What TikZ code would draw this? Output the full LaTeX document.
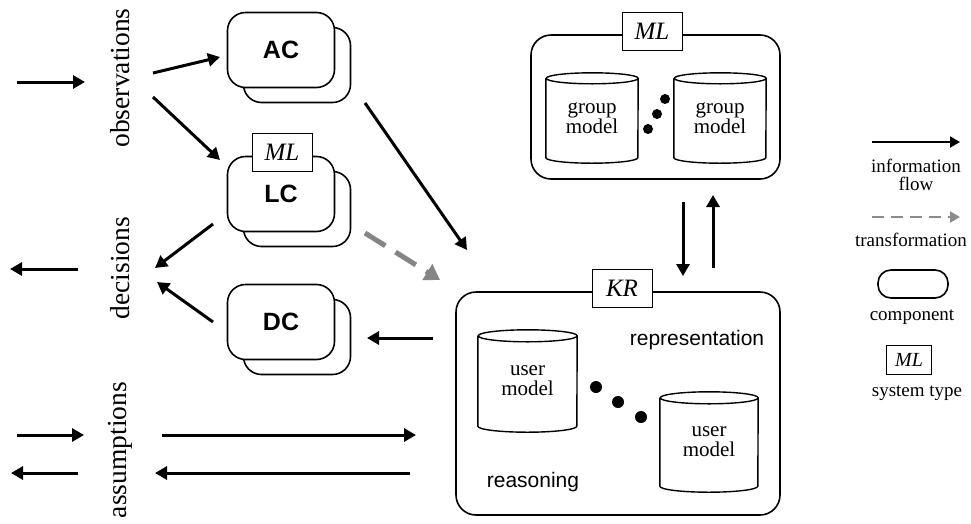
\documentclass[tikz,border=0pt]{standalone}
\usepackage{fontspec}
\setmainfont{Liberation Serif}
\newfontfamily\arialfont{Liberation Sans}
\usetikzlibrary{arrows.meta}

% outline of a data store round a (rectangular) node
\newcommand{\drum}[3]{%
  \draw[line width=1.4pt] ([yshift=-#3]#1.north west) -- ([yshift=#3]#1.south west)
    arc[start angle=180, end angle=360, x radius=#2, y radius=#3]
    -- ([yshift=-#3]#1.north east)
    arc[start angle=0, end angle=180, x radius=#2, y radius=#3]
    arc[start angle=180, end angle=360, x radius=#2, y radius=#3];}

\begin{document}
\begin{tikzpicture}[x=1pt, y=-1pt, >={Triangle[length=12pt,width=13pt]},
  flow/.style={->, line width=3pt},
  trans/.style={-{Triangle[length=15pt,width=18pt]}, line width=5pt, black!48, dash pattern=on 24pt off 12pt},
  comp/.style={draw, line width=1.6pt, rounded corners=18pt, fill=white, minimum width=107pt, minimum height=75pt, font=\arialfont\bfseries\fontsize{25}{25}\selectfont},
  systype/.style={draw, line width=0.8pt, fill=white, minimum width=60pt, minimum height=38pt, inner sep=0pt, font=\itshape\fontsize{25}{25}\selectfont},
  container/.style={draw, line width=1.6pt, rounded corners=20pt},
  sidetext/.style={rotate=90, font=\fontsize{27.5}{27.5}\selectfont},
  drumnode/.style={align=center, inner sep=0pt, font=\fontsize{21}{20}\selectfont},
  sanstext/.style={font=\arialfont\fontsize{21}{21}\selectfont},
  legendtext/.style={align=center, font=\fontsize{19}{18}\selectfont}]
\useasboundingbox (0,0) rectangle (971,523);

% side labels
\node[sidetext] (obs) at (120,78) {observations};
\node[sidetext] (dec) at (120,268) {decisions};
\node[sidetext] (ass) at (120,450) {assumptions};

% components
\node[comp] (ACb) at (297,65) {};
\node[comp] (AC) at (281,50) {AC};
\node[comp] (LCb) at (297,209) {};
\node[comp] (LC) at (281,194) {LC};
\node[systype] (LCtype) at (282,152) {ML};
\node[comp] (DCb) at (297,337) {};
\node[comp] (DC) at (281,322) {DC};

% group models
\node[container, minimum width=249pt, minimum height=144pt] (GM) at (655.5,107) {};
\node[systype] (GMtype) at (652,31) {ML};
\node[drumnode, minimum width=92pt, minimum height=90pt] (gm1) at (592,118) {group\\model};
\node[drumnode, minimum width=92pt, minimum height=90pt] (gm2) at (720,118) {group\\model};
\drum{gm1}{46pt}{5.5pt}
\drum{gm2}{46pt}{5.5pt}
\fill (665,99) circle (5pt) (657,114) circle (5pt) (648,129) circle (5pt);

% user models
\node[container, minimum width=324pt, minimum height=223pt] (KR) at (618,403.5) {};
\node[systype] (KRtype) at (622,288) {KR};
\node[drumnode, minimum width=99pt, minimum height=102pt] (um1) at (527.5,381) {user\\model};
\node[drumnode, minimum width=98pt, minimum height=100pt] (um2) at (709,442) {user\\model};
\drum{um1}{49.5pt}{6pt}
\drum{um2}{49pt}{6pt}
\fill (596,387) circle (6pt) (618,402) circle (6pt) (641,417) circle (6pt);
\node[sanstext] (rep) at (697,340) {representation};
\node[sanstext] (rea) at (533,482) {reasoning};

% arrow ends
\coordinate (obsin1) at (17,82);   \coordinate (obsin2) at (85,82);
\coordinate (obsAC1) at (153,73);  \coordinate (obsAC2) at (220,57);
\coordinate (obsLC1) at (153,97);  \coordinate (obsLC2) at (220,160);
\coordinate (LCdec1) at (213,224); \coordinate (LCdec2) at (155,268);
\coordinate (DCdec1) at (213,322); \coordinate (DCdec2) at (157,282);
\coordinate (decout1) at (78,269); \coordinate (decout2) at (10,269);
\coordinate (ACKR1) at (365,103);  \coordinate (ACKR2) at (467,250);
\coordinate (LCKR1) at (365,233);  \coordinate (LCKR2) at (440,280);
\coordinate (KRDC1) at (433,338);  \coordinate (KRDC2) at (367,338);
\coordinate (assin1) at (17,435);  \coordinate (assin2) at (84,435);
\coordinate (assout1) at (78,473); \coordinate (assout2) at (11,473);
\coordinate (assKR1) at (162,435); \coordinate (assKR2) at (416,435);
\coordinate (KRass1) at (410,473); \coordinate (KRass2) at (155,473);
\coordinate (GMKR1) at (683,202);  \coordinate (GMKR2) at (683,276);
\coordinate (KRGM1) at (713,268);  \coordinate (KRGM2) at (713,195);

\draw[flow] (obsin1) -- (obsin2);
\draw[flow] (obsAC1) -- (obsAC2);
\draw[flow] (obsLC1) -- (obsLC2);
\draw[flow] (LCdec1) -- (LCdec2);
\draw[flow] (DCdec1) -- (DCdec2);
\draw[flow] (decout1) -- (decout2);
\draw[flow] (ACKR1) -- (ACKR2);
\draw[trans] (LCKR1) -- (LCKR2);
\draw[flow] (KRDC1) -- (KRDC2);
\draw[flow] (assin1) -- (assin2);
\draw[flow] (assout1) -- (assout2);
\draw[flow] (assKR1) -- (assKR2);
\draw[flow] (KRass1) -- (KRass2);
\draw[flow] (GMKR1) -- (GMKR2);
\draw[flow] (KRGM1) -- (KRGM2);

% legend
\coordinate (infoA) at (872,142);  \coordinate (infoB) at (960,142);
\draw[->, line width=2pt, >={Triangle[length=10pt,width=11pt]}] (infoA) -- (infoB);
\node[legendtext] (info) at (916,175) {information\\flow};
\coordinate (transA) at (872,217); \coordinate (transB) at (960,217);
\draw[-{Triangle[length=10pt,width=11pt]}, line width=2pt, black!45, dash pattern=on 12pt off 7pt] (transA) -- (transB);
\node[legendtext] (transl) at (911,240) {transformation};
\node[comp, minimum width=70pt, minimum height=28pt, rounded corners=13pt] (complegend) at (913,284) {};
\node[legendtext] (compl) at (912,317) {component};
\node[systype, minimum width=45pt, minimum height=29pt, font=\itshape\fontsize{20}{20}\selectfont] (typelegend) at (909,360) {ML};
\node[legendtext] (typel) at (917,393) {system type};
\end{tikzpicture}
\end{document}
